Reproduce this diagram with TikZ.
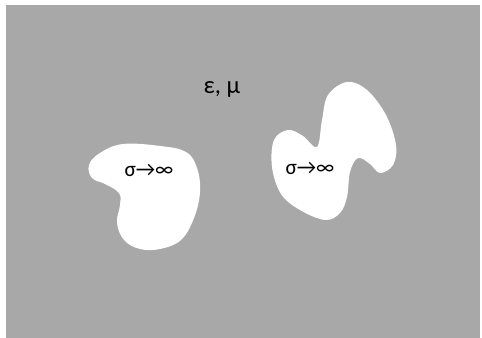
\documentclass[tikz,border=0pt]{standalone}
\usepackage{fontspec}
\setmainfont{Carlito}
\begin{document}
\begin{tikzpicture}[x=0.75pt,y=-0.75pt,
  blob/.style={fill=white,draw=none},
  lbl/.style={font=\fontsize{16}{19}\selectfont, inner sep=0pt}]
\useasboundingbox (0,0) rectangle (482,338);
\fill[white] (0,0) rectangle (482,338);
\fill[black!34] (6,5) rectangle (480,338);
\fill[blob] plot[smooth cycle, tension=0.65] coordinates {
  (89,165) (100,153) (123,144) (160,146) (186,152) (197,168) (200,192)
  (194,218) (181,240) (160,249) (140,249) (124,240) (117,223) (120,205)
  (119,193) (105,184) (92,178)};
\fill[blob] plot[smooth cycle, tension=0.6] coordinates {
  (347,82) (367,90) (386,115) (396,145) (393,165) (380,173) (370,164)
  (358,158) (350,172) (347,197) (340,213) (325,220) (300,210) (281,194)
  (272,167) (274,140) (288,130) (303,136) (317,147) (322,120) (328,95)};
\node[lbl, font=\fontsize{18.5}{22}\selectfont] (em) at (222,90) {ε, μ};
\node[lbl] (s1) at (149,170) {σ→∞};
\node[lbl] (s2) at (310,168) {σ→∞};
\end{tikzpicture}
\end{document}
